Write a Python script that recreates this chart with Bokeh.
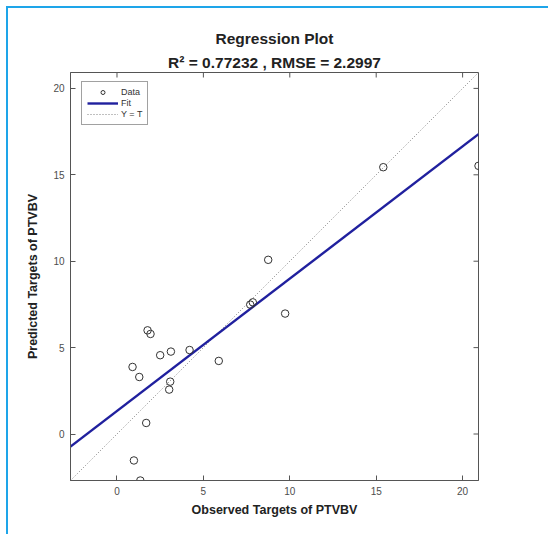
import numpy as np
from bokeh.plotting import figure
from bokeh.models import Range1d, FixedTicker, Legend, LegendItem, Title
from bokeh.embed import file_html
from bokeh.resources import INLINE

# Observed targets (x) and network predictions (y) for PTVBV
observed = [1.77, 1.94, 2.50, 3.12, 4.20, 5.89, 0.90, 1.29, 3.08, 3.02,
            1.69, 0.98, 1.35, 7.71, 7.86, 8.75, 9.73, 15.41, 20.92]
predicted = [6.00, 5.79, 4.56, 4.77, 4.86, 4.23, 3.88, 3.30, 3.03, 2.57,
             0.64, -1.53, -2.69, 7.49, 7.62, 10.08, 6.97, 15.44, 15.52]

# Linear fit of predictions on targets
fit_slope = 0.766
fit_intercept = 1.33

r_squared = 0.77232
rmse = 2.2997

tick_values = [0, 5, 10, 15, 20]

FONT = "Liberation Sans"
AXIS_COLOR = "#555555"
TEXT_COLOR = "#4d4d4d"
LABEL_COLOR = "#222222"

lo = min(min(observed), min(predicted))
hi = max(max(observed), max(predicted))

p = figure(width=542, height=528,
           x_range=Range1d(lo, hi), y_range=Range1d(lo, hi),
           output_backend="svg", toolbar_location=None, title=None,
           min_border_left=62, min_border_right=72,
           min_border_top=64, min_border_bottom=56)
p.styles = {"border-left": "2px solid #1ea5e9", "border-top": "2px solid #1ea5e9",
            "margin-left": "6px", "margin-top": "6px"}
p.background_fill_color = "white"
p.border_fill_color = "white"
p.xgrid.visible = False
p.ygrid.visible = False
p.outline_line_color = AXIS_COLOR
p.outline_line_width = 1

for ax in p.axis:
    ax.ticker = FixedTicker(ticks=tick_values)
    ax.major_tick_in = 5
    ax.major_tick_out = 0
    ax.minor_tick_line_color = None
    ax.axis_line_color = AXIS_COLOR
    ax.major_tick_line_color = AXIS_COLOR
    ax.major_label_text_font = FONT
    ax.major_label_text_font_size = "10px"
    ax.major_label_text_color = TEXT_COLOR
    ax.major_label_standoff = 6
    ax.axis_label_text_font = FONT
    ax.axis_label_text_font_style = "bold"
    ax.axis_label_text_font_size = "12.5px"
    ax.axis_label_text_color = LABEL_COLOR

p.below[0].axis_label = "Observed Targets of PTVBV"
p.below[0].axis_label_standoff = 5
p.left[0].axis_label = "Predicted Targets of PTVBV"
p.left[0].axis_label_standoff = 10

# Inward tick marks on the top and right sides of the box (half clipped by the frame)
p.scatter(tick_values, [hi] * len(tick_values), marker="dash", angle=np.pi / 2,
          size=10, line_color=AXIS_COLOR, line_width=1)
p.scatter([hi] * len(tick_values), tick_values, marker="dash",
          size=10, line_color=AXIS_COLOR, line_width=1)

# Y = T reference line
ident = p.line([lo, hi], [lo, hi], line_color="#808080", line_width=1, line_dash="1 2")

# Fitted line
fit_x = np.array([lo, hi])
fit_y = fit_slope * fit_x + fit_intercept
fit = p.line(fit_x, fit_y, line_color="#20209e", line_width=2.4)

# Data points
pts = p.scatter(observed, predicted, marker="circle", size=7.5,
                fill_color=None, line_color="#333333", line_width=1)

legend = Legend(items=[LegendItem(label="Data", renderers=[pts]),
                       LegendItem(label="Fit", renderers=[fit]),
                       LegendItem(label="Y = T", renderers=[ident])],
                location=(11, 355), margin=0, padding=5, spacing=1,
                glyph_width=31, glyph_height=10, label_height=10,
                label_standoff=3, label_text_font=FONT,
                label_text_font_size="9px", label_text_color="#333333",
                border_line_color="#444444", border_line_width=1,
                background_fill_color="white", background_fill_alpha=1)
p.add_layout(legend)

# Two-line heading; the later one added sits further from the plot
p.add_layout(Title(text=f"R\u00b2 = {r_squared} , RMSE = {rmse}", align="center",
                   text_font=FONT, text_font_style="bold", text_font_size="15.5px",
                   text_color=LABEL_COLOR, standoff=3), "above")
p.add_layout(Title(text="Regression Plot", align="center",
                   text_font=FONT, text_font_style="bold", text_font_size="15.5px",
                   text_color=LABEL_COLOR, standoff=8), "above")

open("out.html", "w").write(file_html(p, INLINE))
